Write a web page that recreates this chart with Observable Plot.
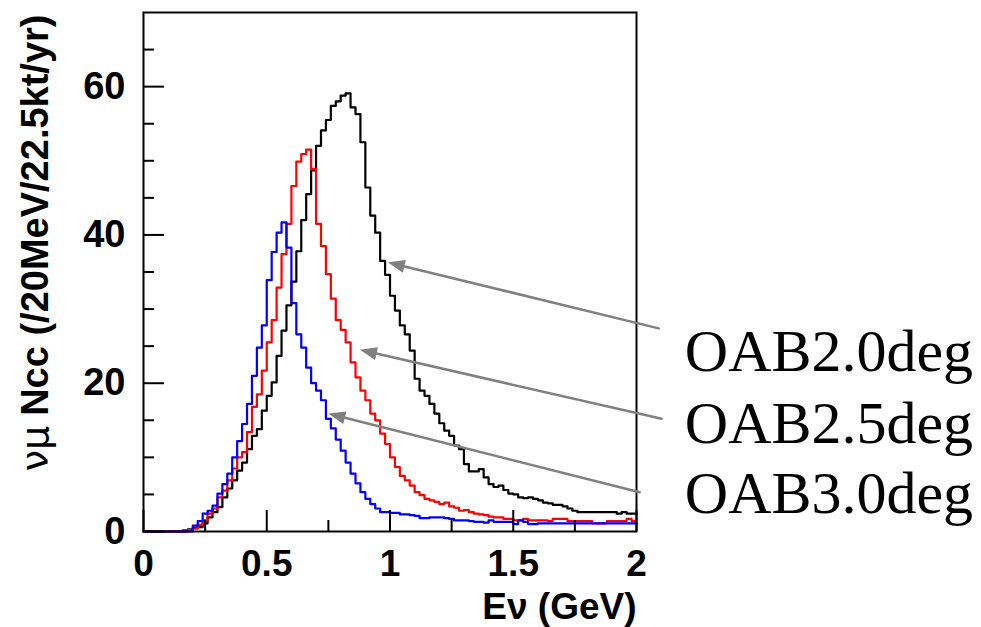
<!DOCTYPE html>
<html><head><meta charset="utf-8">
<script src="https://cdn.jsdelivr.net/npm/d3@7"></script>
<script src="https://cdn.jsdelivr.net/npm/@observablehq/plot@0.6"></script>
<style>
html,body{margin:0;padding:0;background:#fff;}
#chart svg{display:block;}
</style></head><body><div id="chart"></div>
<script>
// ---- data: 100 bins of 20 MeV from 0 to 2 GeV ----
const seriesNames = ["OAB2.0deg", "OAB2.5deg", "OAB3.0deg"];
const seriesColors = ["#000000", "#ff0000", "#0000ff"];
const binWidth = 0.02;
const oab20 = [0,0,0,0,0,0,0,0,0,0.3, 0.5,0.6,1.1,1.9,2.6,3.3,4.6,5.8,6.9,8.2,
  9.3,11.1,12.9,13.8,16.3,18.3,20.1,23.7,27.1,30.5, 33.7,37.8,42.0,45.5,48.7,52.0,54.1,55.5,57.4,58.0,
  58.8,59.1,57.2,56.3,52.5,46.4,42.6,40.3,36.5,34.6, 31.8,29.8,27.8,26.6,24.4,20.6,19.0,18.3,17.2,15.9,
  14.6,13.6,12.9,11.6,11.1,9.1,8.1,8.1,8.4,7.3, 6.4,6.0,6.2,5.6,5.1,5.0,4.6,4.5,4.6,4.4,
  4.2,3.9,3.8,3.6,3.6,3.4,3.1,2.8,2.6,2.6, 2.6,2.6,2.6,2.6,2.6,2.6,2.4,2.6,2.4,2.4];
const oab25 = [0,0,0,0,0,0,0,0,0.2,0.2, 0.4,0.9,1.5,2.4,3.1,4.6,5.5,6.9,8.5,10.0,
  10.7,13.4,16.8,18.5,21.7,25.5,28.5,32.9,37.4,41.5, 46.6,49.9,50.9,51.5,48.9,41.5,38.5,34.7,31.4,28.5,
  27.2,25.5,22.8,20.8,19.0,17.7,15.9,15.0,13.2,11.8, 10.0,8.7,7.5,6.9,6.2,5.3,4.9,4.4,4.2,4.0,
  3.7,3.9,3.4,3.2,2.8,2.9,2.6,2.4,2.3,2.2, 2.0,1.9,1.9,1.7,1.7,1.5,1.5,1.7,1.5,1.5,
  1.5,1.5,1.4,1.7,1.7,1.7,1.4,1.4,1.4,1.4, 1.4,1.1,1.1,1.1,1.4,1.4,1.4,1.4,1.7,1.4];
const oab30 = [0,0,0,0,0,0,0,0,0,0, 0.8,1.4,2.4,2.8,3.5,5.1,6.4,7.8,10.0,12.2,
  14.5,17.2,21.0,24.8,27.8,33.9,37.7,40.3,41.7,38.3, 30.8,26.6,24.8,22.1,20.0,19.0,17.7,15.2,13.9,12.4,
  10.9,9.3,7.8,6.5,5.3,4.4,3.7,3.1,2.6,2.6, 2.5,2.5,2.3,2.3,2.2,2.1,1.8,1.8,1.9,1.9,
  1.9,1.8,1.7,1.5,1.5,1.5,1.4,1.3,1.3,1.2, 1.5,1.3,1.3,1.3,1.3,1.0,1.5,1.3,1.0,1.0,
  1.1,1.1,1.1,1.1,1.1,1.1,1.1,1.1,1.1,1.1, 1.1,1.1,1.1,1.1,1.1,1.1,1.1,1.1,1.1,1.1];
const xTicks = [0, 0.5, 1, 1.5, 2];
const xMinorTicks = [0.25, 0.75, 1.25, 1.75];
const yTicks = [0, 20, 40, 60];
const yMinorTicks = [5, 10, 15, 25, 30, 35, 45, 50, 55, 65];
const xTitle = "Eν (GeV)";
const yTitleMain = "Ncc (/20MeV/22.5kt/yr)";
const yTitleGreek = "νμ";

// ---- layout ----
const W = 981, H = 627, ML = 143, MR = 345, MT = 12, MB = 96;
const plotW = W - ML - MR, plotH = H - MT - MB;
const xMax = 2, yMax = 70;
const kx = plotW / xMax, ky = plotH / yMax;

// histogram rows (bin edges + closing edge)
const allSeries = [oab20, oab25, oab30];
const rows = [];
allSeries.forEach((vals, s) => {
  for (let i = 0; i <= vals.length; i++) {
    rows.push({series: seriesNames[s], e: i * binWidth, n: vals[Math.min(i, vals.length - 1)]});
  }
});

// annotation arrows (data units): tail near label, head on curve
const notes = [
  {label: seriesNames[0], x1: 2.090, y1: 27.4, x2: 0.991, y2: 36.3, lx: 2.196, ly: 21.6},
  {label: seriesNames[1], x1: 2.102, y1: 15.2, x2: 0.878, y2: 24.5, lx: 2.196, ly: 12.0},
  {label: seriesNames[2], x1: 2.013, y1: 5.3,  x2: 0.750, y2: 15.9, lx: 2.196, ly: 2.45}
];
const angle = d => Math.atan2((d.x2 - d.x1) * kx, (d.y2 - d.y1) * ky) * 180 / Math.PI;

const font = "'Liberation Sans', Arial, Helvetica, sans-serif";
const gray = "#808080";
const titleSize = 38;
const mainLen = 10.56 * titleSize; // Arial-bold advance of the bold part

const plot = Plot.plot({
  width: W, height: H,
  marginLeft: ML, marginRight: MR, marginTop: MT, marginBottom: MB,
  x: {domain: [0, xMax]},
  y: {domain: [0, yMax]},
  color: {domain: seriesNames, range: seriesColors},
  style: {background: "#fff", overflow: "visible", fontFamily: font},
  marks: [
    Plot.line(rows, {x: "e", y: "n", z: "series", stroke: "series", strokeWidth: 2.2, curve: "step-after"}),
    Plot.frame({stroke: "#000", strokeWidth: 2}),
    Plot.tickY(yTicks, {y: d => d, stroke: "#000", strokeWidth: 2, insetRight: plotW - 21}),
    Plot.tickY(yMinorTicks, {y: d => d, stroke: "#000", strokeWidth: 2, insetRight: plotW - 11}),
    Plot.tickX(xTicks, {x: d => d, stroke: "#000", strokeWidth: 2, insetTop: plotH - 21}),
    Plot.tickX(xMinorTicks, {x: d => d, stroke: "#000", strokeWidth: 2, insetTop: plotH - 11}),
    Plot.axisX(xTicks, {tickSize: 0, tickPadding: 18, tickFormat: d => String(d), fontSize: 37, fontWeight: "bold", fill: "#000", label: null}),
    Plot.axisY(yTicks, {tickSize: 0, tickPadding: 18, tickFormat: d => String(d), fontSize: 38, fontWeight: "bold", fill: "#000", label: null}),
    Plot.text([xTitle], {frameAnchor: "bottom-right", textAnchor: "end", lineAnchor: "bottom", dy: 87, fontSize: 37, fontWeight: "bold", fill: "#000"}),
    Plot.text([yTitleMain], {frameAnchor: "top-left", textAnchor: "end", lineAnchor: "bottom", rotate: -90, dx: -96, dy: 2, fontSize: titleSize, fontWeight: "bold", fill: "#000"}),
    Plot.text([yTitleGreek], {frameAnchor: "top-left", textAnchor: "end", lineAnchor: "bottom", rotate: -90, dx: -96, dy: 2 + mainLen + 10, fontSize: titleSize, fontWeight: "normal", fontFamily: "'DejaVu Sans', sans-serif", fill: "#000"}),
    Plot.arrow(notes, {x1: "x1", y1: "y1", x2: "x2", y2: "y2", stroke: gray, strokeWidth: 2.5, headLength: 0, insetEnd: 10}),
    Plot.vector(notes, {x: "x2", y: "y2", length: 17, rotate: angle, anchor: "end", shape: "spike", r: 6.5, fill: gray, stroke: "none"}),
    Plot.text(notes, {x: "lx", y: "ly", text: "label", textAnchor: "start", lineAnchor: "bottom", fontSize: 60, fontFamily: "'Liberation Serif', 'Times New Roman', serif", fill: "#000"})
  ]
});
document.getElementById("chart").appendChild(plot);
</script>
</body></html>
